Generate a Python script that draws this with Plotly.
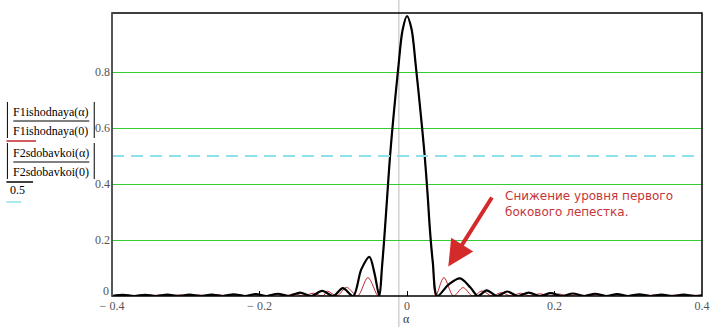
import plotly.graph_objects as go

# --- data ---
# black curve: |F2sdobavkoi(a)/F2sdobavkoi(0)|
black_alpha = [-0.400, -0.385, -0.370, -0.355, -0.340, -0.325, -0.310, -0.295, -0.280, -0.265,
               -0.250, -0.235, -0.220, -0.205, -0.190, -0.175, -0.160, -0.145, -0.130, -0.115,
               -0.100, -0.087, -0.073, -0.062, -0.051, -0.044, -0.0375, -0.034, -0.031, -0.027,
               -0.023, -0.018, -0.012, -0.006, 0.000, 0.006, 0.012, 0.019, 0.024, 0.028,
               0.031, 0.035, 0.041, 0.056, 0.072, 0.086, 0.096, 0.108, 0.122, 0.136,
               0.150, 0.165, 0.180, 0.195, 0.210, 0.225, 0.240, 0.255, 0.270, 0.285,
               0.300, 0.315, 0.330, 0.345, 0.360, 0.375, 0.390, 0.400]
black_val = [0.000, 0.004, 0.000, 0.004, 0.000, 0.005, 0.000, 0.005, 0.000, 0.005,
             0.000, 0.006, 0.000, 0.007, 0.000, 0.008, 0.000, 0.012, 0.000, 0.018,
             0.000, 0.028, 0.000, 0.095, 0.140, 0.080, 0.000, 0.100, 0.200, 0.350,
             0.500, 0.650, 0.810, 0.950, 1.000, 0.955, 0.820, 0.640, 0.500, 0.360,
             0.240, 0.120, 0.000, 0.040, 0.063, 0.030, 0.000, 0.020, 0.000, 0.016,
             0.000, 0.012, 0.000, 0.010, 0.000, 0.009, 0.000, 0.008, 0.000, 0.007,
             0.000, 0.006, 0.000, 0.005, 0.000, 0.005, 0.000, 0.002]

# red curve: |F1ishodnaya(a)/F1ishodnaya(0)|
red_alpha = [-0.400, -0.387, -0.374, -0.361, -0.348, -0.335, -0.322, -0.309, -0.296, -0.283,
             -0.270, -0.257, -0.244, -0.231, -0.218, -0.205, -0.192, -0.179, -0.166, -0.153,
             -0.140, -0.127, -0.114, -0.108, -0.095, -0.082, -0.067, -0.053, -0.039, -0.034,
             -0.031, -0.027, -0.023, -0.018, -0.012, -0.006, 0.000, 0.006, 0.012, 0.019,
             0.024, 0.028, 0.031, 0.035, 0.039, 0.050, 0.063, 0.076, 0.089, 0.102,
             0.115, 0.128, 0.141, 0.154, 0.167, 0.180, 0.193, 0.206, 0.219, 0.232,
             0.245, 0.258, 0.271, 0.284, 0.297, 0.310, 0.323, 0.336, 0.349, 0.362,
             0.375, 0.388, 0.400]
red_val = [0.000, 0.003, 0.000, 0.003, 0.000, 0.004, 0.000, 0.004, 0.000, 0.004,
           0.000, 0.005, 0.000, 0.005, 0.000, 0.006, 0.000, 0.007, 0.000, 0.008,
           0.000, 0.010, 0.000, 0.017, 0.000, 0.031, 0.000, 0.066, 0.000, 0.100,
           0.200, 0.350, 0.500, 0.650, 0.810, 0.950, 1.000, 0.955, 0.820, 0.640,
           0.500, 0.360, 0.240, 0.120, 0.000, 0.066, 0.000, 0.030, 0.000, 0.018,
           0.000, 0.012, 0.000, 0.010, 0.000, 0.008, 0.000, 0.007, 0.000, 0.006,
           0.000, 0.005, 0.000, 0.005, 0.000, 0.004, 0.000, 0.004, 0.000, 0.003,
           0.000, 0.003, 0.000]

level_value = 0.5
x_ticks = [-0.4, -0.2, 0.0, 0.2, 0.4]
x_tick_text = ["\u2212 0.4", "\u2212 0.2", "0", "0.2", "0.4"]
y_ticks = [0.0, 0.2, 0.4, 0.6, 0.8]
y_tick_text = ["", "0.2", "0.4", "0.6", "0.8"]
y_zero_label = "0"
cursor_alpha = -0.011

annotation_text = "Снижение уровня первого<br>бокового лепестка."

serif = "Liberation Serif, Times New Roman, serif"
tick_font = dict(family=serif, size=12, color="#555555")

fig = go.Figure()

fig.add_trace(go.Scatter(x=red_alpha, y=red_val, mode="lines",
                         line=dict(color="#c0272d", width=1, shape="spline", smoothing=0.9),
                         showlegend=False, hoverinfo="skip"))
fig.add_trace(go.Scatter(x=black_alpha, y=black_val, mode="lines",
                         line=dict(color="#000000", width=2.2, shape="spline", smoothing=0.9),
                         showlegend=False, hoverinfo="skip"))
fig.add_trace(go.Scatter(x=[-0.4, 0.4], y=[level_value, level_value], mode="lines",
                         line=dict(color="#8ee0ea", width=2, dash="12px,7px"),
                         showlegend=False, hoverinfo="skip"))

# cursor line (grey vertical)
fig.add_shape(type="line", xref="x", yref="paper", x0=cursor_alpha, x1=cursor_alpha,
              y0=-0.11, y1=1.05, line=dict(color="#bbbbbb", width=1), layer="below")

# frame
fig.add_shape(type="rect", xref="paper", yref="paper", x0=0, x1=1, y0=0, y1=1,
              line=dict(color="#000000", width=1.5))
fig.add_shape(type="line", xref="paper", yref="paper", x0=0, x1=0, y0=0, y1=1,
              line=dict(color="#606060", width=1.5))

# arrow
fig.add_annotation(x=0.056, y=0.105, xref="x", yref="y",
                   ax=0.1164, ay=0.357, axref="x", ayref="y",
                   showarrow=True, arrowhead=2, arrowsize=1.3, arrowwidth=4,
                   arrowcolor="#d42a2a", text="")
fig.add_annotation(x=0.1298, y=0.3286, xref="x", yref="y", xanchor="left", yanchor="middle",
                   text=annotation_text, showarrow=False, align="left",
                   font=dict(family="DejaVu Sans, Verdana, sans-serif", size=12, color="#c5353a"))

pw, ph = 598, 283  # plot size px (for conversions)
def px_x(px):
    return (px - 112) / pw
def px_y(py):
    return (296 - py) / ph

# y "0" label sits just above the corner, as in the reference
fig.add_annotation(x=px_x(110), y=px_y(299), xref="paper", yref="paper", text=y_zero_label,
                   showarrow=False, font=tick_font, xanchor="right", yanchor="bottom",
                   borderpad=0)

# left label block (MathCAD style)
lab_font = dict(family=serif, size=12, color="#000000")
blocks = [("F1ishodnaya(\u03b1)", "F1ishodnaya(0)", 102, 140, "#c0272d", 30),
          ("F2sdobavkoi(\u03b1)", "F2sdobavkoi(0)", 143, 181, "#000000", 27)]
for num, den, ytop, ybot, ucol, ulen in blocks:
    ymid = (ytop + ybot) / 2
    fig.add_annotation(x=px_x(50), y=px_y(ymid - 9), xref="paper", yref="paper", text=num,
                       showarrow=False, font=lab_font, xanchor="center", yanchor="middle")
    fig.add_annotation(x=px_x(50), y=px_y(ymid + 10), xref="paper", yref="paper", text=den,
                       showarrow=False, font=lab_font, xanchor="center", yanchor="middle")
    fig.add_shape(type="line", xref="paper", yref="paper", x0=px_x(12), x1=px_x(89),
                  y0=px_y(ymid), y1=px_y(ymid), line=dict(color="#000000", width=1))
    for bx in (6, 94):
        fig.add_shape(type="line", xref="paper", yref="paper", x0=px_x(bx), x1=px_x(bx),
                      y0=px_y(ytop), y1=px_y(ybot - 2), line=dict(color="#000000", width=1))
    fig.add_shape(type="line", xref="paper", yref="paper", x0=px_x(5), x1=px_x(5 + ulen),
                  y0=px_y(ybot + 1), y1=px_y(ybot + 1), line=dict(color=ucol, width=1.5))

fig.add_annotation(x=px_x(7), y=px_y(190), xref="paper", yref="paper", text="0.5",
                   showarrow=False, font=dict(family=serif, size=12, color="#000000"),
                   xanchor="left", yanchor="middle")
fig.add_shape(type="line", xref="paper", yref="paper", x0=px_x(5), x1=px_x(20),
              y0=px_y(202), y1=px_y(202), line=dict(color="#8ee0ea", width=1.5))

# axis label alpha
fig.add_annotation(x=px_x(410), y=px_y(327), xref="paper", yref="paper", text="\u03b1",
                   showarrow=False, font=dict(family=serif, size=12, color="#333333"),
                   xanchor="center", yanchor="bottom", borderpad=0)

fig.update_layout(
    width=720, height=327,
    margin=dict(l=112, r=10, t=13, b=31),
    paper_bgcolor="white", plot_bgcolor="white",
    xaxis=dict(range=[-0.4, 0.4], tickvals=x_ticks, ticktext=x_tick_text,
               showgrid=False, zeroline=False, ticks="inside", ticklen=5,
               tickcolor="#000000", showline=False, ticklabelstandoff=1,
               tickfont=tick_font),
    yaxis=dict(range=[0, 283 / 280], tickvals=y_ticks, ticktext=y_tick_text,
               showgrid=True, gridcolor="#33cc33", gridwidth=1, zeroline=False,
               ticks="", showline=False, ticklabelstandoff=1,
               tickfont=tick_font),
)

fig.write_html("out.html", config={"displayModeBar": False},
               post_script="document.body.style.margin='0';document.body.style.overflow='hidden';")
